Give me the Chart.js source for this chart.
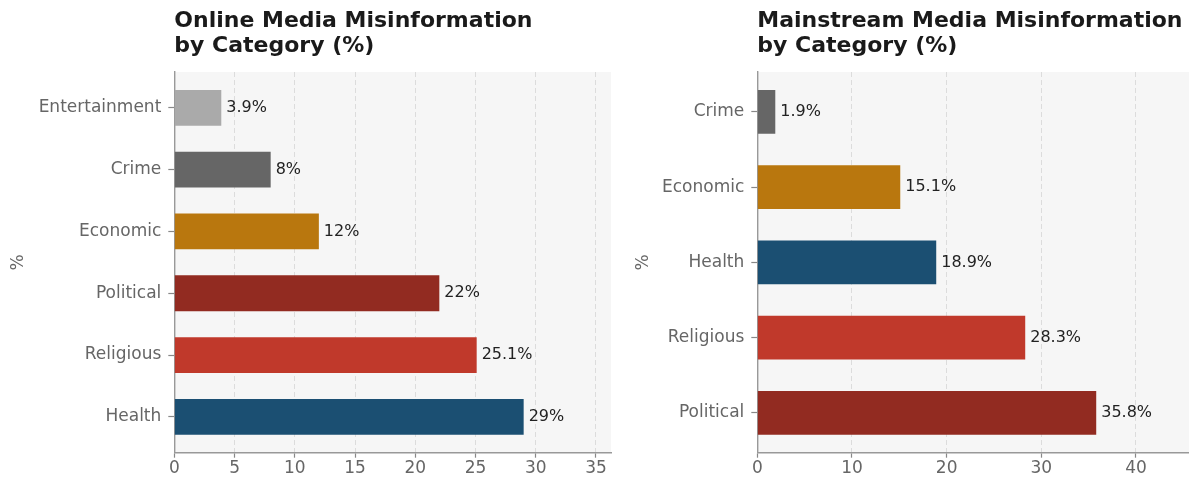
<!DOCTYPE html>
<html>
<head>
<meta charset="utf-8">
<title>Misinformation by Category</title>
<script src="https://cdn.jsdelivr.net/npm/chart.js@4.4.1/dist/chart.umd.min.js"></script>
<style>
  body { margin: 0; background: #fff; }
  #onlineChart { position: absolute; left: 0; top: 0; }
  #mainChart { position: absolute; left: 620px; top: 0; }
</style>
</head>
<body>
<canvas id="onlineChart" width="620" height="481"></canvas>
<canvas id="mainChart" width="569" height="481"></canvas>
<script>
// Online media, listed bottom to top
const onlineCategories = ['Health', 'Religious', 'Political', 'Economic', 'Crime', 'Entertainment'];
const onlineValues = [29, 25.1, 22, 12, 8, 3.9];
const onlineTicks = [0, 5, 10, 15, 20, 25, 30, 35];

// Mainstream media, listed bottom to top
const mainCategories = ['Political', 'Religious', 'Health', 'Economic', 'Crime'];
const mainValues = [35.8, 28.3, 18.9, 15.1, 1.9];
const mainTicks = [0, 10, 20, 30, 40];

const categoryColors = {
  Health: '#1b4f72',
  Religious: '#c0392b',
  Political: '#922b21',
  Economic: '#b9770e',
  Crime: '#666666',
  Entertainment: '#aaaaaa'
};

Chart.defaults.font.family = "'DejaVu Sans', sans-serif";
Chart.defaults.color = '#666';

// plot background, bar value labels and the two-line heading
const decor = {
  id: 'decor',
  beforeDraw(chart) {
    const { ctx, chartArea: a } = chart;
    ctx.save();
    ctx.fillStyle = '#f6f6f6';
    ctx.fillRect(a.left, a.top, a.right - a.left, a.bottom - a.top);
    ctx.restore();
  },
  afterDatasetsDraw(chart) {
    const ctx = chart.ctx;
    const meta = chart.getDatasetMeta(0);
    ctx.save();
    ctx.font = "16px 'DejaVu Sans'";
    ctx.fillStyle = '#222';
    ctx.textBaseline = 'middle';
    ctx.textAlign = 'left';
    meta.data.forEach((bar, i) => {
      const v = chart.data.datasets[0].data[i].x;
      ctx.fillText(v + '%', bar.x + 5, bar.y);
    });
    ctx.restore();
  },
  afterDraw(chart, args, opts) {
    const ctx = chart.ctx;
    ctx.save();
    ctx.font = "bold 22px 'DejaVu Sans'";
    ctx.fillStyle = '#1a1a1a';
    ctx.textBaseline = 'middle';
    ctx.textAlign = 'left';
    opts.lines.forEach((line, i) => {
      ctx.fillText(line, chart.chartArea.left, 21 + i * 25);
    });
    ctx.restore();
  }
};

function makeChart(id, cats, vals, ticks, xMax, yPad, axisWidth, titlePad, heading) {
  return new Chart(document.getElementById(id), {
    type: 'bar',
    data: {
      datasets: [{
        data: vals.map((v, i) => ({ x: v, y: i })),
        backgroundColor: cats.map(c => categoryColors[c]),
        borderWidth: 0,
        barPercentage: 0.58,
        categoryPercentage: 1
      }]
    },
    options: {
      indexAxis: 'y',
      responsive: false,
      animation: false,
      layout: { padding: { top: 72, right: id === 'onlineChart' ? 9 : 0, left: 0, bottom: 0 } },
      plugins: {
        legend: { display: false },
        tooltip: { enabled: false },
        decor: { lines: heading }
      },
      scales: {
        x: {
          type: 'linear',
          min: 0,
          max: xMax,
          afterBuildTicks: s => { s.ticks = ticks.map(t => ({ value: t })); },
          afterFit: s => { s.height = 28.3; },
          grid: {
            color: '#dcdcdc',
            lineWidth: 1,
            tickColor: '#888',
            tickLength: 5,
            tickWidth: 1.2
          },
          border: { display: true, color: '#999', width: 1.4, dash: [5, 3] },
          ticks: { font: { size: 17 }, color: '#666', padding: 1 }
        },
        y: {
          type: 'linear',
          offset: false,
          min: -yPad,
          max: cats.length - 1 + yPad,
          afterBuildTicks: s => { s.ticks = cats.map((c, i) => ({ value: i })); },
          afterFit: s => { s.width = axisWidth; },
          grid: {
            offset: false,
            drawOnChartArea: false,
            tickColor: '#888',
            tickLength: 6,
            tickWidth: 1.2
          },
          border: { display: true, color: '#999', width: 1.4 },
          ticks: {
            font: { size: 17 },
            color: '#666',
            padding: 7,
            callback: v => cats[v]
          },
          title: {
            display: true,
            text: '%',
            font: { size: 17 },
            color: '#666',
            padding: { top: titlePad, bottom: 0 }
          }
        }
      }
    },
    plugins: [decor]
  });
}

makeChart('onlineChart', onlineCategories, onlineValues, onlineTicks, 36.25, 0.58, 174.3, 8,
  ['Online Media Misinformation', 'by Category (%)']);
makeChart('mainChart', mainCategories, mainValues, mainTicks, 45.6, 0.53, 137.3, 13,
  ['Mainstream Media Misinformation', 'by Category (%)']);
</script>
</body>
</html>
